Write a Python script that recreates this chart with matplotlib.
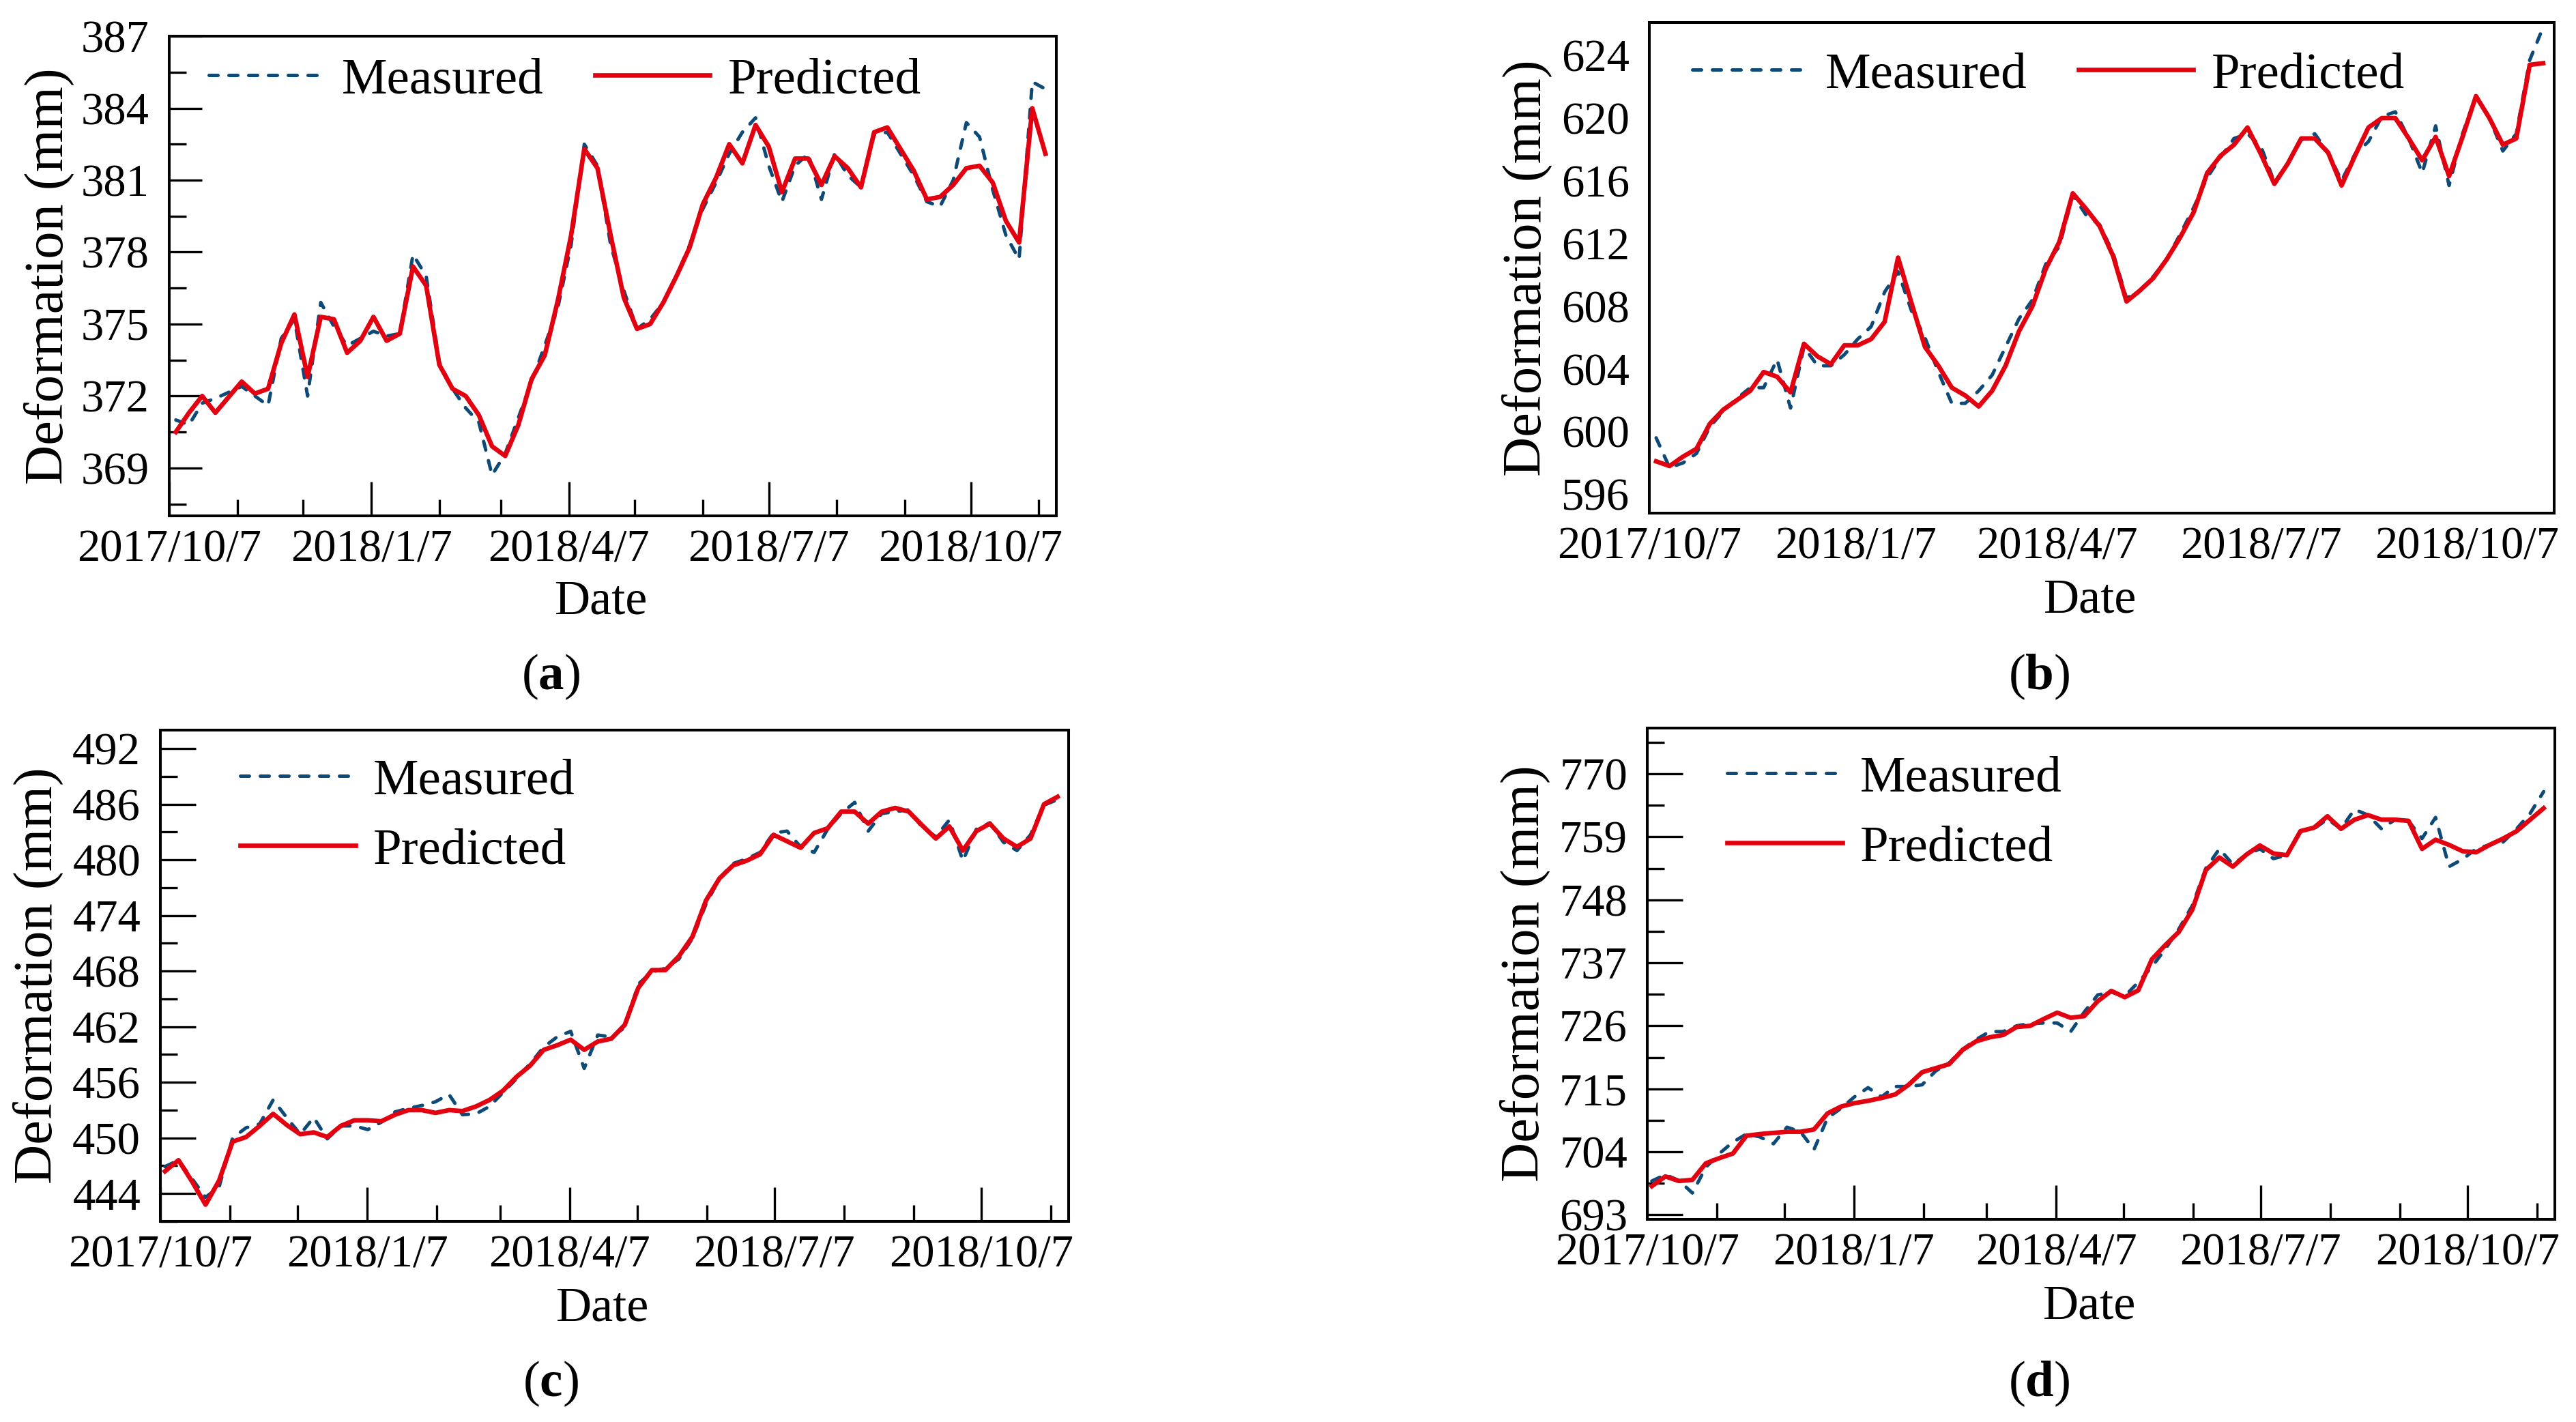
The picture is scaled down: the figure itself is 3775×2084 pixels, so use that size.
import numpy as np
import pandas as pd
import matplotlib
matplotlib.use('Agg')
import matplotlib.pyplot as plt
import matplotlib.dates as mdates
from matplotlib.ticker import MultipleLocator, FixedLocator

plt.rcParams['font.family'] = ['Liberation Serif', 'DejaVu Serif']
plt.rcParams['mathtext.fontset'] = 'custom'
plt.rcParams['mathtext.rm'] = 'Liberation Serif'
plt.rcParams['mathtext.bf'] = 'Liberation Serif:bold'

# ---- data ----
meas_a = [371.0, 370.8, 371.7, 371.9, 372.4, 372.0, 371.6, 374.4, 375.2, 372.0,
          375.9, 374.9, 374.1, 374.4, 374.7, 374.5, 374.6, 377.9, 377.0, 373.4,
          372.3, 371.5, 370.9, 368.7, 369.6, 371.1, 372.6, 374.1, 375.7, 378.3,
          382.5, 381.6, 378.3, 376.4, 374.8, 375.2, 375.9, 377.0, 378.3, 379.8,
          380.9, 382.1, 383.0, 383.6, 381.6, 380.1, 381.6, 382.1, 380.2, 382.1,
          381.2, 380.7, 382.9, 383.0, 382.1, 381.2, 380.1, 379.9, 381.0, 383.4,
          382.8, 380.6, 378.7, 377.7, 385.1, 384.8]
pred_a = [370.5, 371.3, 372.0, 371.3, 372.6, 372.1, 372.3, 374.2, 375.4, 372.8,
          375.3, 375.2, 373.8, 374.3, 375.3, 374.3, 374.6, 377.4, 376.6, 373.3,
          372.3, 372.0, 371.2, 369.9, 369.5, 370.8, 372.7, 373.7, 376.0, 378.7,
          382.3, 381.5, 378.7, 376.1, 374.8, 375.0, 375.9, 377.0, 378.2, 380.0,
          381.1, 382.5, 381.7, 383.3, 382.4, 380.5, 381.9, 381.9, 380.8, 382.0,
          381.5, 380.7, 383.0, 383.2, 382.3, 381.4, 380.2, 380.3, 380.8, 381.5,
          381.6, 380.9, 379.3, 378.4, 384.0, 382.1]

meas_b = [599.6, 597.7, 598.0, 598.6, 600.3, 601.3, 602.1, 602.8, 602.8, 604.6,
          601.5, 605.4, 604.2, 604.2, 604.9, 605.9, 606.7, 608.9, 610.2, 607.7,
          606.0, 603.8, 601.8, 601.8, 602.6, 603.6, 605.4, 607.2, 608.4, 610.7,
          611.8, 615.1, 613.8, 613.2, 611.4, 608.5, 609.0, 609.9, 611.0, 612.6,
          614.3, 616.2, 617.5, 618.7, 619.0, 618.2, 615.9, 617.1, 618.6, 619.0,
          617.8, 616.0, 617.7, 618.5, 620.1, 620.4, 618.7, 616.5, 619.5, 615.7,
          619.0, 621.4, 620.0, 617.9, 619.0, 623.7, 625.8]
pred_b = [598.1, 597.8, 598.4, 598.9, 600.5, 601.4, 602.0, 602.6, 603.8, 603.5,
          602.5, 605.6, 604.8, 604.3, 605.5, 605.5, 605.9, 607.0, 611.1, 608.2,
          605.4, 604.2, 602.8, 602.3, 601.6, 602.6, 604.2, 606.4, 608.0, 610.4,
          612.1, 615.2, 614.2, 613.1, 611.2, 608.3, 609.0, 609.8, 611.0, 612.4,
          614.0, 616.5, 617.6, 618.3, 619.4, 617.7, 615.8, 617.1, 618.7, 618.7,
          617.8, 615.7, 617.6, 619.4, 620.0, 620.0, 618.7, 617.3, 618.8, 616.3,
          618.8, 621.4, 620.0, 618.3, 618.7, 623.4, 623.5]

meas_c = [446.9, 447.6, 445.6, 443.6, 444.7, 450.0, 451.1, 451.5, 454.1, 452.2,
          450.4, 452.2, 449.9, 451.3, 451.3, 450.9, 451.7, 452.8, 453.2, 453.5,
          453.9, 454.7, 452.5, 452.6, 453.4, 454.9, 456.4, 458.0, 459.8, 460.9,
          461.5, 457.5, 461.1, 460.9, 461.9, 466.6, 467.9, 468.3, 469.3, 471.5,
          475.2, 478.0, 479.6, 480.1, 480.8, 482.9, 483.1, 481.4, 480.8, 483.3,
          485.0, 486.2, 483.1, 485.0, 485.2, 485.4, 483.5, 482.5, 484.3, 479.9,
          483.3, 484.0, 481.9, 481.0, 482.7, 485.9, 486.5]
pred_c = [446.4, 447.6, 445.3, 442.8, 445.4, 449.6, 450.1, 451.3, 452.6, 451.4,
          450.4, 450.6, 450.1, 451.3, 451.9, 451.9, 451.8, 452.5, 453.0, 453.0,
          452.7, 453.0, 452.9, 453.4, 454.1, 455.1, 456.6, 457.8, 459.5, 460.0,
          460.6, 459.5, 460.4, 460.7, 462.2, 466.2, 468.1, 468.1, 469.6, 471.7,
          475.6, 478.0, 479.4, 479.9, 480.6, 482.7, 482.0, 481.3, 482.9, 483.4,
          485.2, 485.2, 483.9, 485.2, 485.6, 485.2, 483.7, 482.3, 483.6, 481.0,
          483.1, 483.9, 482.3, 481.4, 482.3, 486.0, 486.8]

meas_d = [698.9, 700.0, 699.0, 696.8, 701.3, 703.7, 705.7, 707.1, 706.6, 705.4,
          708.3, 707.5, 704.4, 709.9, 711.6, 713.6, 715.2, 713.6, 715.4, 715.4,
          715.7, 718.1, 719.5, 721.9, 723.6, 725.0, 725.0, 726.0, 726.4, 726.5,
          726.5, 725.0, 728.4, 731.4, 731.9, 731.2, 733.6, 736.3, 739.4, 742.9,
          747.0, 753.5, 756.9, 754.2, 755.9, 756.9, 755.2, 755.8, 760.0, 760.4,
          762.1, 760.4, 763.8, 762.8, 760.4, 762.0, 761.8, 758.7, 762.4, 753.8,
          755.1, 756.9, 757.6, 758.1, 760.4, 763.1, 766.9]
pred_d = [698.0, 699.7, 698.9, 699.1, 702.0, 702.9, 703.7, 706.8, 707.1, 707.3,
          707.5, 707.5, 707.9, 710.7, 711.9, 712.5, 712.9, 713.4, 714.0, 715.7,
          717.9, 718.6, 719.3, 721.8, 723.3, 724.0, 724.4, 725.8, 726.0, 727.2,
          728.3, 727.4, 727.7, 730.3, 732.1, 731.0, 732.2, 737.6, 740.1, 742.4,
          746.3, 753.2, 755.4, 753.8, 755.9, 757.5, 756.1, 755.8, 760.0, 760.6,
          762.6, 760.4, 762.0, 762.8, 762.0, 762.0, 761.8, 756.9, 758.5, 757.6,
          756.5, 756.3, 757.6, 758.7, 760.0, 762.0, 764.0]

first_date = '2017-10-10'
last_date = '2018-11-10'
x_start = '2017-10-07'
x_end = '2018-11-15'

tick_dates = ['2017-10-07', '2018-01-07', '2018-04-07', '2018-07-07', '2018-10-07']
tick_labels = ['2017/10/7', '2018/1/7', '2018/4/7', '2018/7/7', '2018/10/7']
minor_dates = ['2017-11-07', '2017-12-07', '2018-02-07', '2018-03-07', '2018-05-07',
               '2018-06-07', '2018-08-07', '2018-09-07', '2018-11-07']

yticks_a = [369, 372, 375, 378, 381, 384, 387]
yticks_b = [596, 600, 604, 608, 612, 616, 620, 624]
yticks_c = [444, 450, 456, 462, 468, 474, 480, 486, 492]
yticks_d = [693, 704, 715, 726, 737, 748, 759, 770]

BLUE = '#0d4a78'
RED = '#e3000f'


def to_num(dates):
    return mdates.date2num(pd.to_datetime(dates).to_pydatetime())


def draw_panel(ax, dates, meas, pred, ylim, yticks, ystep, ticks, ymaj_len,
               leg_cols, leg_anchor):
    ax.plot(dates, meas, color=BLUE, lw=3.6, dashes=(2.6, 3.2),
            dash_capstyle='round', label='Measured')
    ax.plot(dates, pred, color=RED, lw=4.8, solid_joinstyle='round',
            label='Predicted')
    ax.set_xlim(to_num([x_start])[0], to_num([x_end])[0])
    ax.set_ylim(*ylim)
    ax.set_xticks(to_num(tick_dates))
    ax.set_xticklabels(tick_labels)
    ax.set_yticks(yticks)
    ax.set_yticklabels([str(v) for v in yticks])
    if ticks:
        ax.xaxis.set_minor_locator(FixedLocator(to_num(minor_dates)))
        ax.yaxis.set_minor_locator(MultipleLocator(ystep))
        ax.tick_params(axis='x', which='major', direction='in', length=36, width=2.4,
                       pad=14, labelsize=48)
        ax.tick_params(axis='x', which='minor', direction='in', length=17.5, width=2.4)
        ax.tick_params(axis='y', which='major', direction='in', length=ymaj_len,
                       width=2.4, pad=21, labelsize=48)
        ax.tick_params(axis='y', which='minor', direction='in', length=18, width=2.4)
    else:
        ax.tick_params(axis='both', which='major', length=0, labelsize=48)
        ax.tick_params(axis='x', pad=14)
        ax.tick_params(axis='y', pad=21)
    for sp in ax.spines.values():
        sp.set_linewidth(2.9)
    ax.set_xlabel('Date', fontsize=52)
    ax.set_ylabel('Deformation (mm)', fontsize=58)
    ax.xaxis.set_label_coords(0.487, -0.133)
    ax.yaxis.set_label_coords(-0.107, 0.5)
    ax.legend(ncol=leg_cols, loc='center left', bbox_to_anchor=leg_anchor,
              frameon=False, fontsize=54, handlelength=2.25, handletextpad=0.35,
              columnspacing=1.0, labelspacing=0.45, borderpad=0, borderaxespad=0)


fig = plt.figure(figsize=(37.75, 20.84), dpi=100)
ax_a = fig.add_axes([0.0657, 0.6372, 0.3444, 0.3373])
ax_b = fig.add_axes([0.6403, 0.6392, 0.3513, 0.3450])
ax_c = fig.add_axes([0.0623, 0.1411, 0.3526, 0.3455])
ax_d = fig.add_axes([0.6395, 0.1425, 0.3523, 0.3455])

slots_a = pd.date_range(first_date, last_date, periods=len(pred_a) + 1).delete(4)
dates_a = to_num(slots_a)
dates_b = to_num(pd.date_range(first_date, last_date, periods=len(pred_b)))
dates_c = to_num(pd.date_range('2017-10-09', last_date, periods=len(pred_c)))
dates_d = to_num(pd.date_range('2017-10-09', last_date, periods=len(pred_d)))

draw_panel(ax_a, dates_a, meas_a, pred_a, (367, 387), yticks_a, 1.5, True, 34.5,
           2, (0.0446, 0.908))
draw_panel(ax_b, dates_b, meas_b, pred_b, (594.8, 626.1), yticks_b, 2, False, 0,
           2, (0.0475, 0.893))
draw_panel(ax_c, dates_c, meas_c, pred_c, (441, 494), yticks_c, 3, True, 37.5,
           1, (0.088, 0.825))
draw_panel(ax_d, dates_d, meas_d, pred_d, (692.2, 778), yticks_d, 5.5, True, 37.5,
           1, (0.088, 0.826))

fig.text(0.2138, 0.524, r'($\mathbf{a}$)', ha='center', va='center', fontsize=54)
fig.text(0.7915, 0.524, r'($\mathbf{b}$)', ha='center', va='center', fontsize=54)
fig.text(0.2138, 0.027, r'($\mathbf{c}$)', ha='center', va='center', fontsize=54)
fig.text(0.7915, 0.027, r'($\mathbf{d}$)', ha='center', va='center', fontsize=54)

fig.savefig('out.png', dpi=100)
